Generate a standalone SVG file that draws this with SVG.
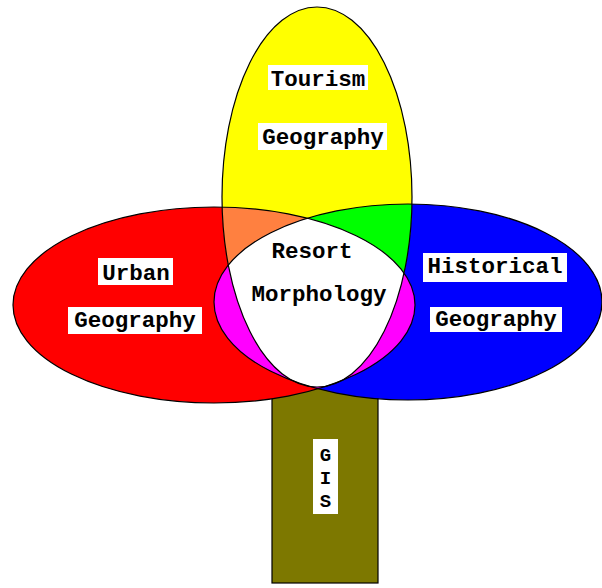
<svg xmlns="http://www.w3.org/2000/svg" width="602" height="588" viewBox="0 0 602 588">
  <style>
    .lbl { font-family: "Liberation Mono", "DejaVu Sans Mono", monospace; font-weight: bold; font-size: 22.5px; fill: #000; text-anchor: middle; }
    .gis { font-size: 19px; }
    .box { fill: #fff; }
    .edge { fill: none; stroke: #000; stroke-width: 1.2; }
  </style>
  <defs>
    <clipPath id="clipRed"><ellipse cx="214" cy="305" rx="201" ry="98"/></clipPath>
    <clipPath id="clipBlue"><ellipse cx="408" cy="302" rx="194" ry="98"/></clipPath>
    <clipPath id="clipYellow"><ellipse cx="317" cy="197" rx="95" ry="190"/></clipPath>
  </defs>
  <rect width="602" height="588" fill="#fff"/>

  <g id="gis">
    <rect x="272" y="380" width="106" height="203" fill="#7d7800" stroke="#000" stroke-width="1.2"/>
  </g>

  <g id="fills">
    <ellipse cx="214" cy="305" rx="201" ry="98" fill="#ff0000"/>
    <ellipse cx="408" cy="302" rx="194" ry="98" fill="#0000ff"/>
    <ellipse cx="317" cy="197" rx="95" ry="190" fill="#ffff00"/>
    <g clip-path="url(#clipRed)"><ellipse cx="317" cy="197" rx="95" ry="190" fill="#ff8040"/></g>
    <g clip-path="url(#clipBlue)"><ellipse cx="317" cy="197" rx="95" ry="190" fill="#00ff00"/></g>
    <g clip-path="url(#clipRed)"><ellipse cx="408" cy="302" rx="194" ry="98" fill="#ff00ff"/></g>
    <g clip-path="url(#clipRed)"><g clip-path="url(#clipBlue)"><ellipse cx="317" cy="197" rx="95" ry="190" fill="#ffffff"/></g></g>
  </g>

  <g id="outlines">
    <ellipse class="edge" cx="214" cy="305" rx="201" ry="98"/>
    <ellipse class="edge" cx="408" cy="302" rx="194" ry="98"/>
    <ellipse class="edge" cx="317" cy="197" rx="95" ry="190"/>
  </g>

  <g id="tourism">
    <rect class="box" x="268" y="65" width="100" height="25"/>
    <text class="lbl" x="318" y="86">Tourism</text>
    <rect class="box" x="258" y="123" width="129" height="27"/>
    <text class="lbl" x="323" y="144">Geography</text>
  </g>

  <g id="urban">
    <rect class="box" x="98" y="258" width="75" height="27"/>
    <text class="lbl" x="136" y="280">Urban</text>
    <rect class="box" x="68" y="307" width="134" height="27"/>
    <text class="lbl" x="135" y="327">Geography</text>
  </g>

  <g id="historical">
    <rect class="box" x="423" y="253" width="144" height="29"/>
    <text class="lbl" x="495" y="273">Historical</text>
    <rect class="box" x="430" y="307" width="132" height="25"/>
    <text class="lbl" x="496" y="326">Geography</text>
  </g>

  <g id="resort">
    <text class="lbl" x="312" y="258">Resort</text>
    <text class="lbl" x="319" y="301">Morphology</text>
  </g>

  <g id="gis-label">
    <rect class="box" x="313" y="439" width="25" height="75"/>
    <text class="lbl gis" x="325.5" y="461">G</text>
    <text class="lbl gis" x="325.5" y="484">I</text>
    <text class="lbl gis" x="325.5" y="507">S</text>
  </g>
</svg>
